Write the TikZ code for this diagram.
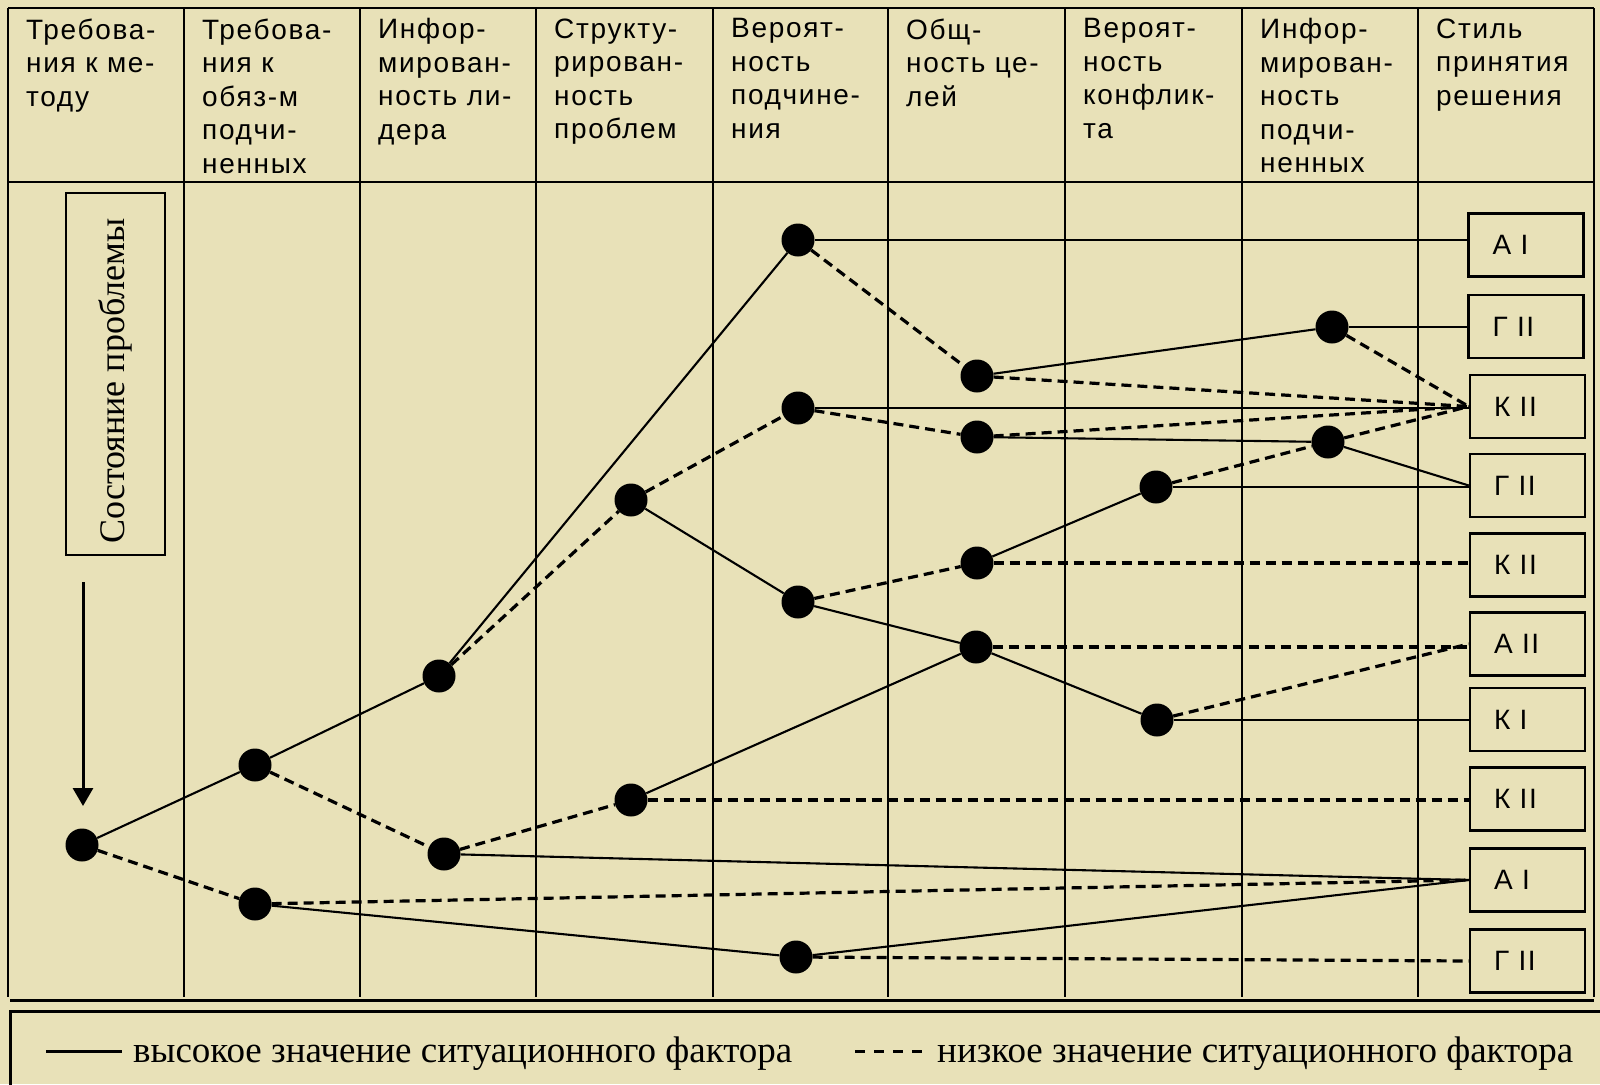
\documentclass[tikz,border=0pt]{standalone}
\usepackage{fontspec}
\setmainfont{Liberation Sans}[LetterSpace=6]
\newfontfamily\serifru{Liberation Serif}
\usetikzlibrary{arrows.meta}
\definecolor{bg}{RGB}{232,225,184}
\begin{document}
\begin{tikzpicture}[x=1pt,y=-1pt,
  hi/.style={line width=2.1pt},
  lo/.style={line width=3.2pt, dash pattern=on 10pt off 6pt},
  gridline/.style={line width=2.2pt},
  dot/.style={circle, fill=black, minimum size=33pt, inner sep=0pt},
  res/.style={draw, line width=2.5pt, minimum width=115pt, minimum height=63pt, text width=67pt, inner xsep=24pt, inner ysep=0pt, align=left, font=\fontsize{28}{30}\selectfont},
  head/.style={anchor=north west, inner sep=0pt, align=left, font=\fontsize{28}{33.5}\selectfont},
  legtext/.style={anchor=base west, inner sep=0pt, font=\serifru\fontsize{37}{37}\selectfont},
]
\fill[bg] (0,0) rectangle (1600,1084);
\useasboundingbox (0,0) rectangle (1600,1084);

% table
\draw[gridline] (8,8) -- (1594,8);
\draw[gridline] (8,182) -- (1594,182);
\foreach \x in {8,184,360,536,713,888,1065,1242,1418,1594}
  \draw[gridline] (\x,8) -- (\x,997);
\draw[line width=3pt] (10,1000) -- (1594,1000);
\draw[line width=3pt] (10,1090) -- (10,1011) -- (1610,1011);

% headers
\node[head] (h1) at (26,18.5) {Требова-\\ния к ме-\\тоду};
\node[head] (h2) at (202,18.5) {Требова-\\ния к\\обяз-м\\подчи-\\ненных};
\node[head] (h3) at (378,18.5) {Инфор-\\мирован-\\ность ли-\\дера};
\node[head] (h4) at (554,18.5) {Структу-\\рирован-\\ность\\проблем};
\node[head] (h5) at (731,18.5) {Вероят-\\ность\\подчине-\\ния};
\node[head] (h6) at (906,18.5) {Общ-\\ность це-\\лей};
\node[head] (h7) at (1083,18.5) {Вероят-\\ность\\конфлик-\\та};
\node[head] (h8) at (1260,18.5) {Инфор-\\мирован-\\ность\\подчи-\\ненных};
\node[head] (h9) at (1436,18.5) {Стиль\\принятия\\решения};

% state box and arrow
\node[draw, line width=2.2pt, rotate=90, minimum width=362pt, minimum height=99pt, inner sep=0pt,
      font=\serifru\fontsize{36}{36}\selectfont] (state) at (115.5,374) {Состояние проблемы\hspace*{14pt}};
\coordinate (arrS) at (83,582);
\coordinate (arrE) at (83,806);
\draw[line width=3pt, -{Triangle[length=18pt,width=20pt]}] (arrS) -- (arrE);

% result boxes
\node[res] (r1) at (1526,245) {А I};
\node[res] (r2) at (1526,326.5) {Г II};
\node[res] (r3) at (1527.5,406.5) {К II};
\node[res] (r4) at (1527.5,485.5) {Г II};
\node[res] (r5) at (1527.5,565) {К II};
\node[res] (r6) at (1527.5,644) {А II};
\node[res] (r7) at (1527.5,719.5) {К I};
\node[res] (r8) at (1527.5,799) {К II};
\node[res] (r9) at (1527.5,880) {А I};
\node[res] (r10) at (1527.5,961) {Г II};

% decision points
\node[dot] (n0) at (82,845) {};
\node[dot] (a1) at (255,765) {};
\node[dot] (a2) at (255,904) {};
\node[dot] (b1) at (439,676) {};
\node[dot] (b2) at (444,854) {};
\node[dot] (c1) at (631,500) {};
\node[dot] (c2) at (631,800) {};
\node[dot] (d1) at (798,240) {};
\node[dot] (d2) at (798,408) {};
\node[dot] (d3) at (798,602) {};
\node[dot] (d4) at (796,957) {};
\node[dot] (e1) at (977,376) {};
\node[dot] (e2) at (977,437) {};
\node[dot] (e3) at (977,563) {};
\node[dot] (e4) at (976,647) {};
\node[dot] (f1) at (1156,487) {};
\node[dot] (f2) at (1157,720) {};
\node[dot] (g1) at (1332,327) {};
\node[dot] (g2) at (1328,442) {};

% connectors
\draw[hi] (n0) -- (a1);
\draw[lo] (n0) -- (a2);
\draw[hi] (a1) -- (b1);
\draw[lo] (a1) -- (b2);
\draw[lo] (a2) -- (r9.west);
\draw[hi] (a2) -- (d4);
\draw[hi] (b1) -- (d1);
\draw[lo] (b1) -- (c1);
\draw[lo] (c1) -- (d2);
\draw[hi] (c1) -- (d3);
\draw[lo] (b2) -- (c2);
\draw[hi] (b2) -- (r9.west);
\draw[hi] (c2) -- (e4);
\draw[lo] (c2) -- (c2 -| r8.west);
\draw[hi] (d1) -- (d1 -| r1.west);
\draw[lo] (d1) -- (e1);
\draw[hi] (d2) -- (d2 -| r3.west);
\draw[lo] (d2) -- (e2);
\draw[lo] (d3) -- (e3);
\draw[hi] (d3) -- (e4);
\draw[hi] (d4) -- (r9.west);
\draw[lo] (d4) -- (r10.west);
\draw[hi] (e1) -- (g1);
\draw[lo] (e1) -- (r3.west);
\draw[hi] (e2) -- (g2);
\draw[lo] (e2) -- (r3.west);
\draw[hi] (e3) -- (f1);
\draw[lo] (e3) -- (e3 -| r5.west);
\draw[hi] (e4) -- (f2);
\draw[lo] (e4) -- (e4 -| r6.west);
\draw[lo] (f1) -- (g2);
\draw[hi] (f1) -- (f1 -| r4.west);
\draw[hi] (f2) -- (f2 -| r7.west);
\draw[lo] (f2) -- (r6.west);
\draw[hi] (g1) -- (g1 -| r2.west);
\draw[lo] (g1) -- (r3.west);
\draw[lo] (g2) -- (r3.west);
\draw[hi] (g2) -- (r4.west);

% legend
\coordinate (ls1) at (46,1051);
\coordinate (ls2) at (122,1051);
\draw[line width=3pt] (ls1) -- (ls2);
\node[legtext] (leg1) at (133,1062) {высокое значение ситуационного фактора};
\coordinate (ld1) at (855,1051);
\coordinate (ld2) at (923,1051);
\draw[line width=3pt, dash pattern=on 10pt off 9pt] (ld1) -- (ld2);
\node[legtext] (leg2) at (937,1062) {низкое значение ситуационного фактора};
\end{tikzpicture}
\end{document}
